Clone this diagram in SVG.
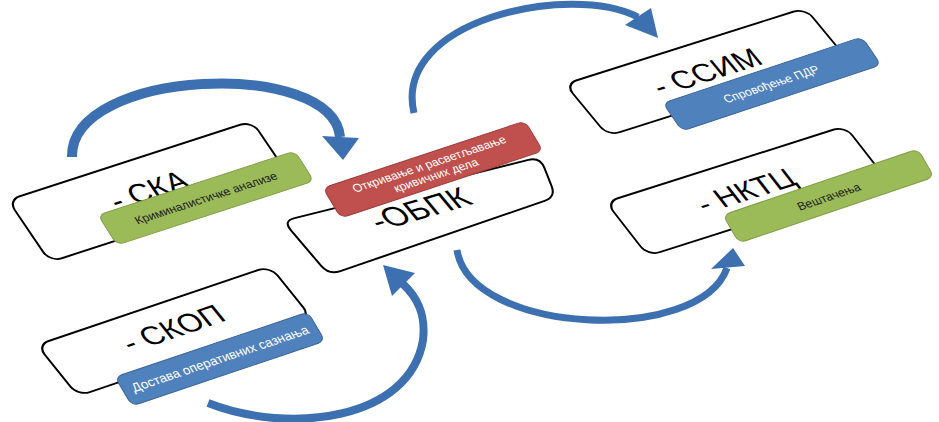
<svg xmlns="http://www.w3.org/2000/svg" width="939" height="422" viewBox="0 0 939 422">
<style>
.box{fill:#fff;stroke:#000;stroke-width:2}
.big{font-family:"Liberation Sans",Arial,sans-serif;font-size:30px;fill:#000;text-anchor:middle}
.lbl{font-family:"Liberation Sans",Arial,sans-serif;font-size:12px;text-anchor:middle}
.green{fill:#9bbb59;stroke:#7f9c45;stroke-width:1}
.blue{fill:#4f81bd;stroke:#3c6595;stroke-width:1}
.red{fill:#c0504d;stroke:#9c3d3a;stroke-width:1}
.dk{fill:#222}
.wt{fill:#fff}
.arr{fill:none;stroke:#3d70b0;stroke-linecap:butt}
.head{fill:#3d70b0}
</style>
<rect width="939" height="422" fill="#fff"/>
<g id="connectors">
<path class="arr" stroke-width="10" d="M72,157 C70,68 333,58 340,137"/>
<polygon class="head" points="322,136 359,138 343,160"/>
<path class="arr" stroke-width="7" d="M414,113 C392,20 570,-18 638,17"/>
<polygon class="head" points="625,25 651,8 658,38"/>
<path class="arr" stroke-width="8" d="M208,403 C290,435 410,420 423,340 C426,315 418,298 403,284"/>
<polygon class="head" points="383,265 415,273 392,296"/>
<path class="arr" stroke-width="7" d="M457,250 C470,335 700,345 727,268"/>
<polygon class="head" points="711,269 745,266 733,248"/>
</g>
<g id="ska">
 <g transform="matrix(0.951,-0.308,0.561,0.828,8,200)">
  <rect class="box" width="256.5" height="74.9" rx="12"/>
  <text class="big" x="127" y="46">- СКА</text>
 </g>
 <g transform="matrix(0.951,-0.309,0.535,0.845,98,215)">
  <rect class="green" width="207" height="35.5" rx="7"/>
  <text class="lbl dk" x="103.5" y="22">Криминалистичке анализе</text>
 </g>
</g>
<g id="obpk">
 <path class="box" d="M294.6,218.1 L528.4,159.9 Q540,157 544.5,168.1 L551.5,185.9 Q556,197 544.6,200.9 L340.4,271.1 Q329,275 321.2,265.9 L290.8,230.1 Q283,221 294.6,218.1 Z"/>
 <text class="big" style="font-size:32px" transform="matrix(0.96,-0.28,0.64,0.77,420,209)" x="0" y="11">-ОБПК</text>
 <g transform="matrix(0.949,-0.315,0.514,0.857,323,188)">
  <rect class="red" width="212.8" height="35" rx="7"/>
  <text class="lbl wt" x="106" y="15">Откривање и расветљавање</text>
  <text class="lbl wt" x="106" y="28">кривичних дела</text>
 </g>
</g>
<g id="skop">
 <g transform="matrix(0.947,-0.321,0.627,0.780,37,345)">
  <rect class="box" width="246" height="65.4" rx="12"/>
  <text class="big" x="124" y="40">- СКОП</text>
 </g>
 <g transform="matrix(0.9475,-0.319,0.506,0.863,115,377)">
  <rect class="blue" width="203.7" height="33.6" rx="7"/>
  <text class="lbl wt" x="102" y="21" style="font-size:13px">Достава оперативних сазнања</text>
 </g>
</g>
<g id="ssim">
 <g transform="matrix(0.9535,-0.302,0.637,0.770,565,84)">
  <rect class="box" width="251.7" height="67.5" rx="12"/>
  <text class="big" x="126" y="44">- ССИМ</text>
 </g>
 <g transform="matrix(0.949,-0.315,0.562,0.828,663,103)">
  <rect class="blue" width="209.7" height="33.8" rx="7"/>
  <text class="lbl wt" x="104" y="21">Спровођење ПДР</text>
 </g>
</g>
<g id="nktc">
 <g transform="matrix(0.953,-0.303,0.614,0.789,606,202)">
  <rect class="box" width="250.8" height="68.4" rx="12"/>
  <text class="big" x="125" y="44">- НКТЦ</text>
 </g>
 <g transform="matrix(0.947,-0.3205,0.497,0.870,723,215)">
  <rect class="green" width="205.9" height="32.2" rx="7"/>
  <text class="lbl dk" x="103" y="21">Вештачења</text>
 </g>
</g>
</svg>
